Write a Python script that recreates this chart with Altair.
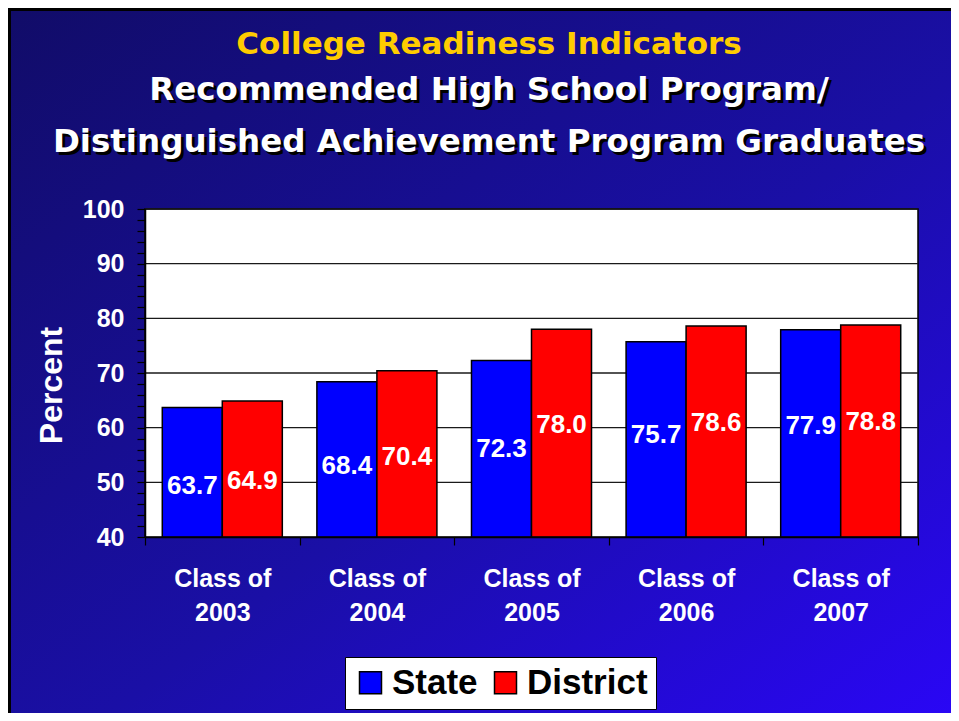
import altair as alt
import pandas as pd

# ---- data ----
YEARS = ["2003", "2004", "2005", "2006", "2007"]
STATE = [63.7, 68.4, 72.3, 75.7, 77.9]
DISTRICT = [64.9, 70.4, 78.0, 78.6, 78.8]
SERIES = ["State", "District"]
SERIES_COLORS = ["#0000FF", "#FF0000"]
Y_TICKS = list(range(40, 101, 2))
GRID_VALUES = [50, 60, 70, 80, 90, 100]
Y_MIN, Y_MAX = 40, 100
TITLE_TOP = "College Readiness Indicators"
TITLE_LINE1 = "Recommended High School Program/"
TITLE_LINE2 = "Distinguished Achievement Program Graduates"
Y_TITLE = "Percent"
X_PREFIX = "Class of"

# ---- layout ----
W, H = 773, 328
PAD = {"left": 137, "top": 201, "right": 33, "bottom": 176}
FONT = "Liberation Sans"
TFONT = "DejaVu Sans"
LABEL_FRACTION = 0.775  # value labels sit at this fraction of the bar value

rows = []
for yr, s, d in zip(YEARS, STATE, DISTRICT):
    rows.append({"year": yr, "series": "State", "value": s})
    rows.append({"year": yr, "series": "District", "value": d})
df = pd.DataFrame(rows)
one = pd.DataFrame({"k": [0]})

yscale = alt.Scale(domain=[Y_MIN, Y_MAX], zero=False, nice=False)
xscale = alt.Scale(paddingInner=0, paddingOuter=0)
xoffscale = alt.Scale(paddingInner=0, paddingOuter=0.288)

xaxis = alt.Axis(
    title=None, labelAngle=0,
    labelExpr="datum.label ? ['" + X_PREFIX + "', datum.label] : ''",
    labelColor="white", labelFont=FONT, labelFontWeight="bold", labelFontSize=25,
    labelLineHeight=34, labelPadding=21, labelBaseline="top",
    domainColor="black", domainWidth=1.5, tickColor="black", tickWidth=1.2,
    tickSize=8, tickBand="extent", zindex=1,
)
yaxis = alt.Axis(
    values=Y_TICKS,
    labelExpr="datum.value % 10 == 0 ? datum.label : ''",
    grid=False, domainColor="black", domainWidth=1.5,
    tickColor="black", tickWidth=1.2, tickSize=8,
    labelColor="white", labelFont=FONT, labelFontWeight="bold", labelFontSize=25,
    labelPadding=13, labelOverlap=False, labelFlush=False,
    title=Y_TITLE, titleColor="white", titleFont=FONT, titleFontWeight="bold",
    titleFontSize=32, titleAngle=270, titleX=-94, titleY=176,
    titleAlign="center", titleBaseline="middle", zindex=1,
)
legend = alt.Legend(
    title=None, orient="none", legendX=200, legendY=448, direction="horizontal",
    fillColor="white", strokeColor="black", padding=8,
    symbolType="square", symbolSize=484, symbolStrokeColor="black",
    symbolStrokeWidth=1.5, symbolOpacity=1,
    labelFont=FONT, labelFontWeight="bold", labelFontSize=35, labelColor="black",
    labelOffset=4, columnPadding=10, labelLimit=300, zindex=1,
)

bg = alt.Chart(one).mark_rect(
    color=alt.LinearGradient(
        gradient="linear",
        stops=[
            alt.GradientStop(color="#110c68", offset=0),
            alt.GradientStop(color="#1a0fa6", offset=0.55),
            alt.GradientStop(color="#2a06f6", offset=1),
        ],
        x1=0, y1=0, x2=1, y2=1,
    ),
    stroke="black", strokeWidth=6,
).encode(
    x=alt.value(-PAD["left"]), x2=alt.value(W + PAD["right"] + 6),
    y=alt.value(-PAD["top"]), y2=alt.value(H + PAD["bottom"] + 6),
)

plot_bg = alt.Chart(one).mark_rect(color="white", stroke="black", strokeWidth=1.5).encode(
    x=alt.value(0), x2=alt.value(W), y=alt.value(0), y2=alt.value(H)
)

grid = alt.Chart(pd.DataFrame({"v": GRID_VALUES})).mark_rule(
    color="#1a1a1a", strokeWidth=1.3
).encode(y=alt.Y("v:Q", scale=yscale, axis=yaxis))

bars = alt.Chart(df).mark_bar(stroke="black", strokeWidth=1.5).encode(
    x=alt.X("year:N", sort=YEARS, scale=xscale, axis=xaxis),
    xOffset=alt.XOffset("series:N", sort=SERIES, scale=xoffscale),
    y=alt.Y("value:Q", scale=yscale, axis=yaxis),
    y2=alt.datum(Y_MIN),
    color=alt.Color("series:N", sort=SERIES,
                    scale=alt.Scale(domain=SERIES, range=SERIES_COLORS), legend=legend),
)

labels = alt.Chart(df).transform_calculate(
    mid="datum.value * %s" % LABEL_FRACTION
).mark_text(
    color="white", font=FONT, fontWeight="bold", fontSize=26, baseline="middle"
).encode(
    x=alt.X("year:N", sort=YEARS, scale=xscale, axis=xaxis),
    xOffset=alt.XOffset("series:N", sort=SERIES, scale=xoffscale),
    y=alt.Y("mid:Q", scale=yscale, axis=yaxis),
    text=alt.Text("value:Q", format=".1f"),
)


def title_text(txt, color, y, size, dx=0, dy=0):
    return alt.Chart(one).mark_text(
        text=txt, font=TFONT, fontWeight="bold", fontSize=size, color=color,
        align="center", baseline="alphabetic",
    ).encode(x=alt.value(344 + dx), y=alt.value(y + dy))


t_top = title_text(TITLE_TOP, "#FFCC00", -155, 31)
s1 = title_text(TITLE_LINE1, "black", -109, 32.5, 3, 3)
t1 = title_text(TITLE_LINE1, "white", -109, 32.5)
s2 = title_text(TITLE_LINE2, "black", -57, 32.5, 3, 3)
t2 = title_text(TITLE_LINE2, "white", -57, 32.5)

chart = alt.layer(bg, plot_bg, grid, bars, labels, t_top, s1, t1, s2, t2).properties(
    width=W, height=H, padding=PAD,
    autosize=alt.AutoSizeParams(type="none"),
    background="#1a10a0",
).configure_view(stroke=None)

chart.save("out.html", embed_options={"renderer": "svg", "actions": False})
